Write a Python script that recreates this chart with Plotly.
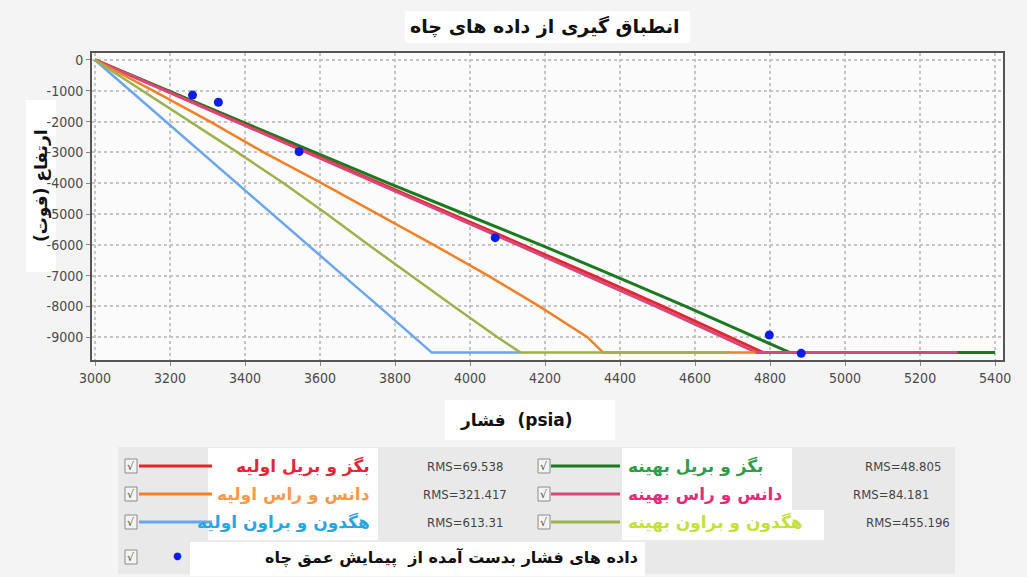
import plotly.graph_objects as go

# ---- data -------------------------------------------------------------
depth_levels = [0, -1000, -2000, -3000, -4000, -5000, -6000, -7000, -8000, -9000, -9500]
bottom_depth = -9500

p_beggs_init = [3000, 3190, 3380, 3573, 3762, 3950, 4140, 4329, 4514, 4693, 4782]
p_duns_init = [3000, 3156, 3307, 3450, 3604, 3755, 3903, 4048, 4185, 4313, 4355]
p_hag_init = [3000, 3095, 3188, 3282, 3378, 3474, 3568, 3662, 3757, 3852, 3898]
p_beggs_opt = [3000, 3195, 3390, 3588, 3782, 3985, 4188, 4383, 4575, 4760, 4853]
p_duns_opt = [3000, 3188, 3378, 3568, 3756, 3943, 4128, 4311, 4496, 4675, 4764]
p_hag_opt = [3000, 3127, 3254, 3380, 3503, 3618, 3729, 3842, 3957, 4073, 4135]

# pressure at which each curve's run along the bottom depth stops
end_beggs_init, end_duns_init, end_hag_init = 5300, 4760, 4135
end_beggs_opt, end_duns_opt, end_hag_opt = 5400, 5300, 4690

well_p = [3260, 3329, 3544, 4067, 4798, 4883]
well_d = [-1140, -1373, -2977, -5769, -8929, -9523]

names_init = ["بگز و بریل اولیه", "دانس و راس اولیه", "هگدون و براون اولیه"]
names_opt = ["بگز و بریل بهینه", "دانس و راس بهینه", "هگدون و براون بهینه"]
rms_init = [69.538, 321.417, 613.31]
rms_opt = [48.805, 84.181, 455.196]
well_name = "داده های فشار بدست آمده از  پیمایش عمق چاه"

x_ticks = [3000, 3200, 3400, 3600, 3800, 4000, 4200, 4400, 4600, 4800, 5000, 5200, 5400]
y_ticks = [0, -1000, -2000, -3000, -4000, -5000, -6000, -7000, -8000, -9000]
y_tick_labels = ["0", "-1000", "-2000", "-3000", "-4000", "-5000", "-6000",
                 "-7000", "-8000", "-9000"]

title_text = "انطباق گیری از داده های چاه"
x_title = "فشار  (psia)"
y_title = "ارتفاع (فوت)"

# ---- styling ----------------------------------------------------------
W, H = 1027, 577
ML, MR, MT, MB = 92, 24, 53, 217
PW, PH = W - ML - MR, H - MT - MB

C_BEGGS_I, C_DUNS_I, C_HAG_I = "#e3262b", "#f28026", "#6aa6ee"
C_BEGGS_O, C_DUNS_O, C_HAG_O = "#1b7a1f", "#d6487a", "#9db14c"
TXT_INIT = ["#e0283a", "#f39a4c", "#2aa6de"]
TXT_OPT = ["#2e9e46", "#e62a7a", "#c4e03a"]
AR_FONT = "DejaVu Sans"
NUM_FONT = "DejaVu Sans Condensed, Liberation Sans Narrow, sans-serif"


def px(x):
    return (x - ML) / PW


def py(y):
    return (MT + PH - y) / PH


def label(x, y, text, font, xanchor="center", **kw):
    annotations.append(dict(x=px(x), y=py(y), xref="paper", yref="paper", showarrow=False,
                            xanchor=xanchor, yanchor="middle", text=text, font=font, **kw))


def box(x0, x1, y0, y1, fill, line=None):
    shapes.append(dict(type="rect", xref="paper", yref="paper", x0=px(x0), x1=px(x1),
                       y0=py(y1), y1=py(y0), fillcolor=fill,
                       line=line if line else dict(width=0), layer="below"))


def curve(p, end_p):
    return p + [end_p], depth_levels + [bottom_depth]


fig = go.Figure()

series = [
    (p_beggs_opt, end_beggs_opt, C_BEGGS_O, 3, names_opt[0]),
    (p_beggs_init, end_beggs_init, C_BEGGS_I, 3, names_init[0]),
    (p_duns_opt, end_duns_opt, C_DUNS_O, 3, names_opt[1]),
    (p_duns_init, end_duns_init, C_DUNS_I, 2.5, names_init[1]),
    (p_hag_init, end_hag_init, C_HAG_I, 2.5, names_init[2]),
    (p_hag_opt, end_hag_opt, C_HAG_O, 2.5, names_opt[2]),
]
for p, e, c, w, n in series:
    xs, ys = curve(p, e)
    fig.add_trace(go.Scatter(x=xs, y=ys, mode="lines", name=n,
                             line=dict(color=c, width=w), showlegend=False))

fig.add_trace(go.Scatter(x=well_p, y=well_d, mode="markers", name=well_name,
                         marker=dict(color="#0a1ee6", size=9, line=dict(width=0)),
                         showlegend=False))

shapes = []
annotations = []

# title and axis titles on white boxes
box(405, 690, 11, 43, "white")
label(545, 27, "<b>" + title_text + "</b>", dict(family=AR_FONT, size=19, color="#111"))
box(26, 56, 100, 272, "white")
label(41, 186, "<b>" + y_title + "</b>", dict(family=AR_FONT, size=17, color="#111"),
      textangle=-90)
box(445, 615, 400, 440, "white")
label(516, 420, "<b>" + x_title + "</b>", dict(family=AR_FONT, size=17, color="#111"))

# legend panel
box(118, 955, 447, 574, "#e9e9e9")
box(208, 378, 448, 540, "white")
box(622, 792, 448, 512, "white")
box(622, 824, 510, 540, "white")
box(190, 645, 542, 576, "white")

row_y = [466, 494, 522]
init_cols = [C_BEGGS_I, C_DUNS_I, C_HAG_I]
opt_cols = [C_BEGGS_O, C_DUNS_O, C_HAG_O]


def checkbox(x, y):
    shapes.append(dict(type="rect", xref="paper", yref="paper", x0=px(x - 6), x1=px(x + 6),
                       y0=py(y + 7), y1=py(y - 7), fillcolor="#f4f4f4",
                       line=dict(color="#8a8a8a", width=1)))
    label(x, y, "√", dict(family="DejaVu Sans", size=11, color="#555"))


def sample(x0, x1, y, color):
    shapes.append(dict(type="line", xref="paper", yref="paper", x0=px(x0), x1=px(x1),
                       y0=py(y), y1=py(y), line=dict(color=color, width=3)))


rms_opt_x = [903, 891, 908]
for i, yy in enumerate(row_y):
    checkbox(131, yy)
    sample(139, 212, yy, init_cols[i])
    label(372, yy, "<b>" + names_init[i] + "</b>",
          dict(family=AR_FONT, size=17, color=TXT_INIT[i]), xanchor="right")
    label(465, yy, "RMS=" + str(rms_init[i]), dict(family=NUM_FONT, size=13, color="#444"))
    checkbox(544, yy)
    sample(551, 620, yy, opt_cols[i])
    label(626, yy, "<b>" + names_opt[i] + "</b>",
          dict(family=AR_FONT, size=17, color=TXT_OPT[i]), xanchor="left")
    label(rms_opt_x[i], yy, "RMS=" + str(rms_opt[i]),
          dict(family=NUM_FONT, size=13, color="#444"))

checkbox(131, 557)
label(177, 555, "●", dict(family="DejaVu Sans", size=10, color="#0a1ee6"))
label(640, 557, "<b>" + well_name + "</b>", dict(family=AR_FONT, size=16, color="#111"),
      xanchor="right")

axis_common = dict(showline=True, linecolor="#555", linewidth=2, mirror=True,
                   showgrid=True, gridcolor="#c4c4c4", gridwidth=1.5, griddash="dot",
                   zeroline=False, ticks="outside", ticklen=4, tickcolor="#888",
                   tickfont=dict(family=NUM_FONT, size=14, color="#4a4a4a"))

fig.update_layout(
    width=W, height=H,
    margin=dict(l=ML, r=MR, t=MT, b=MB),
    paper_bgcolor="#f4f4f4",
    plot_bgcolor="#fbfbfb",
    xaxis=dict(range=[2992, 5421], tickmode="array", tickvals=x_ticks, **axis_common),
    yaxis=dict(range=[-9740, 227], tickmode="array", tickvals=y_ticks,
               ticktext=y_tick_labels, **axis_common),
    shapes=shapes,
    annotations=annotations,
    showlegend=False,
)

fig.write_html("out.html")
